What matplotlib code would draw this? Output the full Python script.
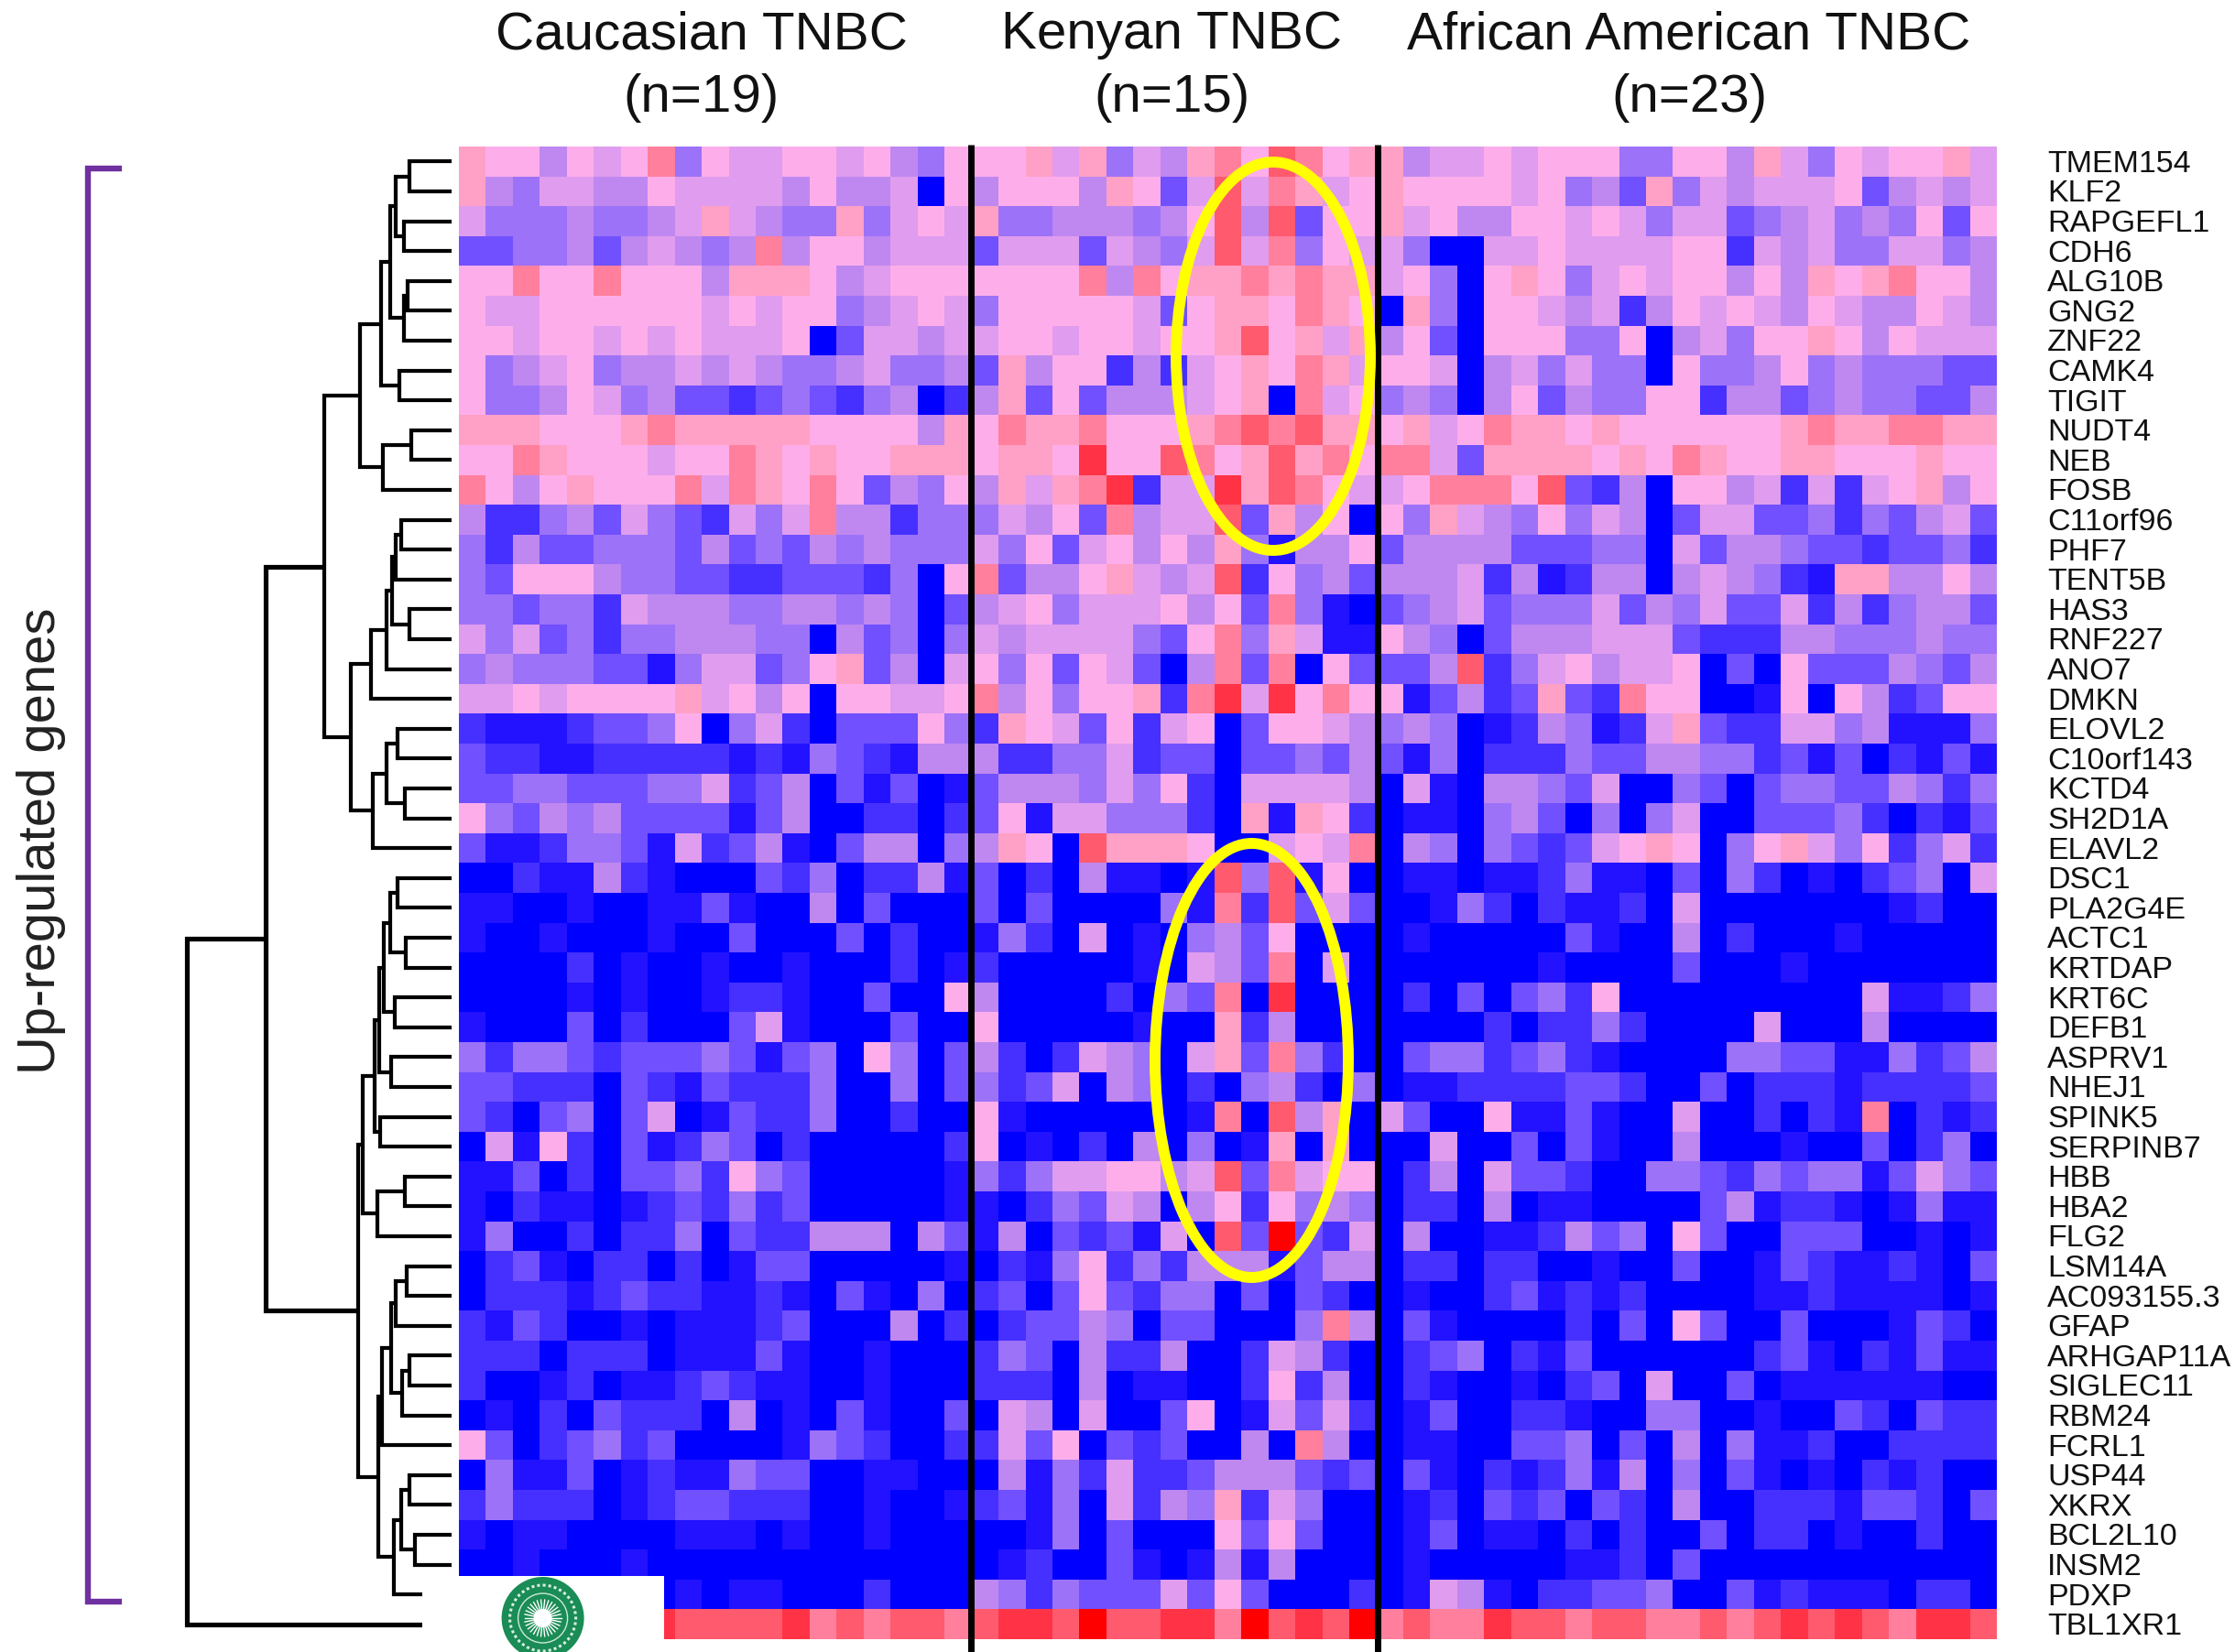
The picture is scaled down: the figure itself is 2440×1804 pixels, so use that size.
import matplotlib
matplotlib.use("Agg")
from matplotlib import pyplot as plt
from matplotlib.colors import ListedColormap
from matplotlib.patches import Circle, Ellipse, Rectangle
import numpy as np

plt.rcParams['font.family'] = ['Liberation Sans', 'DejaVu Sans']

genes = ["TMEM154", "KLF2", "RAPGEFL1", "CDH6", "ALG10B", "GNG2", "ZNF22", "CAMK4", "TIGIT", "NUDT4",
         "NEB", "FOSB", "C11orf96", "PHF7", "TENT5B", "HAS3", "RNF227", "ANO7", "DMKN", "ELOVL2",
         "C10orf143", "KCTD4", "SH2D1A", "ELAVL2", "DSC1", "PLA2G4E", "ACTC1", "KRTDAP", "KRT6C", "DEFB1",
         "ASPRV1", "NHEJ1", "SPINK5", "SERPINB7", "HBB", "HBA2", "FLG2", "LSM14A", "AC093155.3", "GFAP",
         "ARHGAP11A", "SIGLEC11", "RBM24", "FCRL1", "USP44", "XKRX", "BCL2L10", "INSM2", "PDXP", "TBL1XR1"]

group_names = ["Caucasian TNBC", "Kenyan TNBC", "African American TNBC"]
group_sizes = ["(n=19)", "(n=15)", "(n=23)"]

# expression: 0 = blue ... 7 = pink ... c = red
caucasian = [
    "87757 67947 66776 7547", "85466 55766 66575 5607", "64445 44568 65448 4676", "33445 35654 59577 5666",
    "77977 97775 88875 6777", "76677 77776 76774 5676", "77677 67676 66703 6656", "74567 45565 65445 6445",
    "74457 64533 23432 4502", "88877 78988 88877 7758", "77987 77677 98787 7888", "97578 77796 98797 3547",
    "52245 36432 64695 5244", "42533 44435 34354 5444", "43777 54433 22333 2407", "44344 26555 44554 5403",
    "64634 24455 54405 3404", "45444 33146 63478 3506", "66767 77786 75707 7667", "21112 33470 46203 3374",
    "32211 22222 12143 2155", "33443 33446 23503 1301", "74354 53333 13500 2202", "31124 43162 35103 5504",
    "00211 52100 03240 2251", "11001 00113 10050 3000", "10010 00100 30003 0200", "00002 01001 00100 0201",
    "00001 01001 22100 3007", "10003 02000 36100 0300", "42443 23334 31340 7403", "33222 03213 22240 0403",
    "32034 03601 32240 0200", "06172 03124 30200 0002", "11302 03342 74300 0001", "10211 01232 42300 0001",
    "14002 02240 32255 5053", "02310 22020 13300 0001", "02221 23221 12103 1040", "21320 01011 12300 0502",
    "22202 22011 13100 1000", "20012 01123 21100 1000", "01020 32220 50103 1003", "73023 42300 00143 2002",
    "04113 01211 43300 1100", "24222 01233 22200 1001", "10110 00011 10100 1000", "00100 01000 00000 0000",
    "00000 00010 11000 2000", "aaaaa aabaa aab9a 9aa9",
]
kenyan = [
    "77868 46589 7a978", "57775 8736a 69867", "84455 5457a 5a377", "36663 6546a 69476", "77779 59788 98988",
    "47777 76378 87987", "67767 76778 a7868", "38577 25267 87986", "58373 55567 80967", "79889 77789 a9a88",
    "7887b 77a97 8a897", "58689 b266b 8a976", "46573 9566a 38570", "64736 75758 41557", "93557 8656a 27453",
    "56746 66757 39410", "65666 64379 48611", "74737 63059 39073", "95747 7829b 6b797", "28763 72670 37765",
    "52244 62330 33435", "35554 64720 66665", "37166 44420 81872", "5870a 88870 06769", "30205 1101a 4a170",
    "30300 00419 2a363", "14206 01045 37000", "20000 01065 39060", "50000 20439 0b000", "70000 01008 25000",
    "52026 54068 39420", "42360 54020 45204", "71000 00019 0a580", "70102 05040 18080", "42466 7756a 39677",
    "10243 65057 27454", "15032 3160a 3c326", "02147 24255 51355", "23037 32440 30320", "02335 40330 00495",
    "24305 22500 26520", "22205 01100 27250", "06506 00370 16362", "26370 32300 50950", "05142 62235 55323",
    "23140 62548 26400", "00140 30007 37300", "01200 31015 15000", "54243 33637 30002", "abbac aabb9 cabac",
]
african_american = [
    "85667 67774 47758 64767 786", "87777 67453 84656 66735 656", "86755 77676 46634 56454 737",
    "64006 67666 67726 56446 645", "67407 87467 67757 58789 775", "08407 76562 57676 57655 765",
    "57307 77447 05647 78757 666", "77605 64644 07445 74544 433", "45405 73544 77255 34544 335",
    "78679 88787 77777 89889 988", "99638 88878 79877 88777 877", "67999 7a325 07756 26267 857",
    "74865 47465 03663 34243 563", "35555 33344 06355 43323 342", "55562 51255 05654 21885 575",
    "34563 44463 54633 62524 553", "75403 55566 63222 55444 544", "335a2 46756 67030 73335 435",
    "71352 38329 77001 70752 377", "45401 25412 68322 66451 114", "31402 22433 55442 31302 131",
    "06105 54360 04303 44335 424", "01104 53040 46003 33420 213", "05404 32367 87047 86472 462",
    "01101 12411 03042 01023 406", "00142 02112 06000 00001 200", "01000 00310 05020 00100 000",
    "00000 01000 03000 10000 000", "02030 34270 00000 00061 124", "00002 02242 00006 00050 000",
    "03442 34210 00044 33114 235", "01122 22332 00302 22122 223", "63007 11310 06002 02190 212",
    "00600 30310 05000 10030 240", "02506 33200 44324 34413 643", "02205 01100 00351 22101 411",
    "05001 12534 07300 33300 101", "02202 20010 03001 32112 103", "01002 31212 00001 12111 101",
    "03100 00203 07300 30001 320", "02340 21300 00002 31021 311", "02100 10230 60030 11111 100",
    "01300 22100 44001 00320 322", "01100 33403 05041 12002 222", "03102 12415 04031 01021 200",
    "01203 23032 05002 22133 203", "01301 10202 00302 20100 200", "01000 00112 03000 00000 000",
    "01651 02233 40031 21110 220", "9a99b aa9aa 99a9a baba9 bba",
]

level_colors = ["#0000ff", "#2212ff", "#4630ff", "#7050ff", "#9c72f8", "#bf88f0", "#e09cee",
                "#fdaeea", "#ffa0c6", "#ff7f9c", "#ff5a6e", "#ff3345", "#ff0000"]

# dendrogram: (x of the join, child, child), a leaf is the row number
top_a = (416, (426, (432, (447, 0, 1), (441, 2, 3)), (441, (445, 4, 5), 6)), (436, 7, 8))
top_b = (418, (449, 9, 10), 11)
mid_a = (405, (422, (428, (432, (438, 12, 13), 14), (447, 15, 16)), 17), 18)
mid_b = (407, (422, (434, 19, 20), (442, 21, 22)), 23)
upper = (354, (393, top_a, top_b), (383, mid_a, mid_b))
low_a = (409, (414, (419, (426, (434, 24, 25), (443, 26, 27)), (431, 28, 29)), (427, 30, 31)), (415, 32, 33))
low_b = (412, (442, 34, 35), 36)
low_c = (417, (427, (432, (444, 37, 38), 39), (439, (447, 40, 41), 42)), 43)
low_d = (430, (438, (447, 44, 45), (453, 46, 47)), 48)
lower = (391, (396, low_a, low_b), (413, low_c, low_d))
gene_tree = (204, (290, upper, lower), 49)

W, H = 2440, 1804
LEFT, RIGHT, TOP, BOTTOM = 500.7, 2179, 160, 1790
LEAF_X = 493


def to_levels(rows):
    return [[int(c, 16) for c in r if c != " "] for r in rows]


def draw_tree(node, ax, row_h):
    if isinstance(node, int):
        return LEAF_X, TOP + (node + 0.5) * row_h
    x, a, b = node
    xa, ya = draw_tree(a, ax, row_h)
    xb, yb = draw_tree(b, ax, row_h)
    lw = 4.2 * 0.72
    if x < 300:
        lw = 5.2 * 0.72
    ax.plot([xa, x, x, xb], [ya, ya, yb, yb], color="black", lw=lw, solid_joinstyle="miter",
            solid_capstyle="butt", zorder=3)
    return x, (ya + yb) / 2


fig = plt.figure(figsize=(W / 100, H / 100), dpi=100)
ax = fig.add_axes([0, 0, 1, 1])
ax.axis("off")

matrix = np.hstack([to_levels(caucasian), to_levels(kenyan), to_levels(african_american)])
ax.imshow(matrix, cmap=ListedColormap(level_colors), vmin=0, vmax=12, aspect="auto",
          interpolation="nearest", extent=(LEFT, RIGHT, BOTTOM, TOP), zorder=1)
ax.set_xlim(0, W)
ax.set_ylim(H, 0)

row_h = (BOTTOM - TOP) / len(genes)
draw_tree(gene_tree, ax, row_h)

for i, g in enumerate(genes):
    ax.text(2235, TOP + (i + 0.5) * row_h + 3, g, fontsize=24.5, va="center", ha="left", color="#111111")

# black lines between the three cohorts
for x in [1060, 1504]:
    ax.plot([x, x], [158, H], color="black", lw=5, solid_capstyle="butt", zorder=4)

title_x = [766, 1279, 1844]
for x, t, n in zip(title_x, group_names, group_sizes):
    ax.text(x, 38, t, fontsize=42, ha="center", va="center", color="#111111")
    ax.text(x, 107, n, fontsize=42, ha="center", va="center", color="#111111")

ax.text(45, 918, "Up-regulated genes", fontsize=41.8, rotation=90, ha="center", va="center", color="#222222")
ax.plot([133, 96, 96, 133], [184, 184, 1749, 1749], color="#7030a0", lw=4.6,
        solid_joinstyle="miter", solid_capstyle="butt", zorder=3)

# yellow rings
ax.add_patch(Ellipse((1390, 389), 212, 424, fill=False, ec="#ffff00", lw=8.6, zorder=5))
ax.add_patch(Ellipse((1366.5, 1158), 211, 474, fill=False, ec="#ffff00", lw=8.6, zorder=5))

# white box with the logo over the lower left corner
ax.add_patch(Rectangle((461, 1721), 264, H - 1721, fc="white", ec="none", zorder=6))
cx, cy = 592.6, 1767
ax.add_patch(Circle((cx, cy), 45, fc="#1a8c55", ec="none", zorder=7))
ax.add_patch(Circle((cx, cy), 36, fill=False, ec="#d8efe2", lw=2.2, ls=(0, (1, 1)), zorder=8))
ax.add_patch(Circle((cx, cy), 27, fill=False, ec="#cfe9da", lw=1, zorder=8))
for ang in np.deg2rad(np.arange(0, 360, 12)):
    ax.plot([cx, cx + 20 * np.cos(ang)], [cy, cy + 20 * np.sin(ang)], color="white", lw=1, zorder=8)
ax.add_patch(Circle((cx, cy), 10, fc="white", ec="none", zorder=9))

fig.savefig("out.png", dpi=100, facecolor="white")
